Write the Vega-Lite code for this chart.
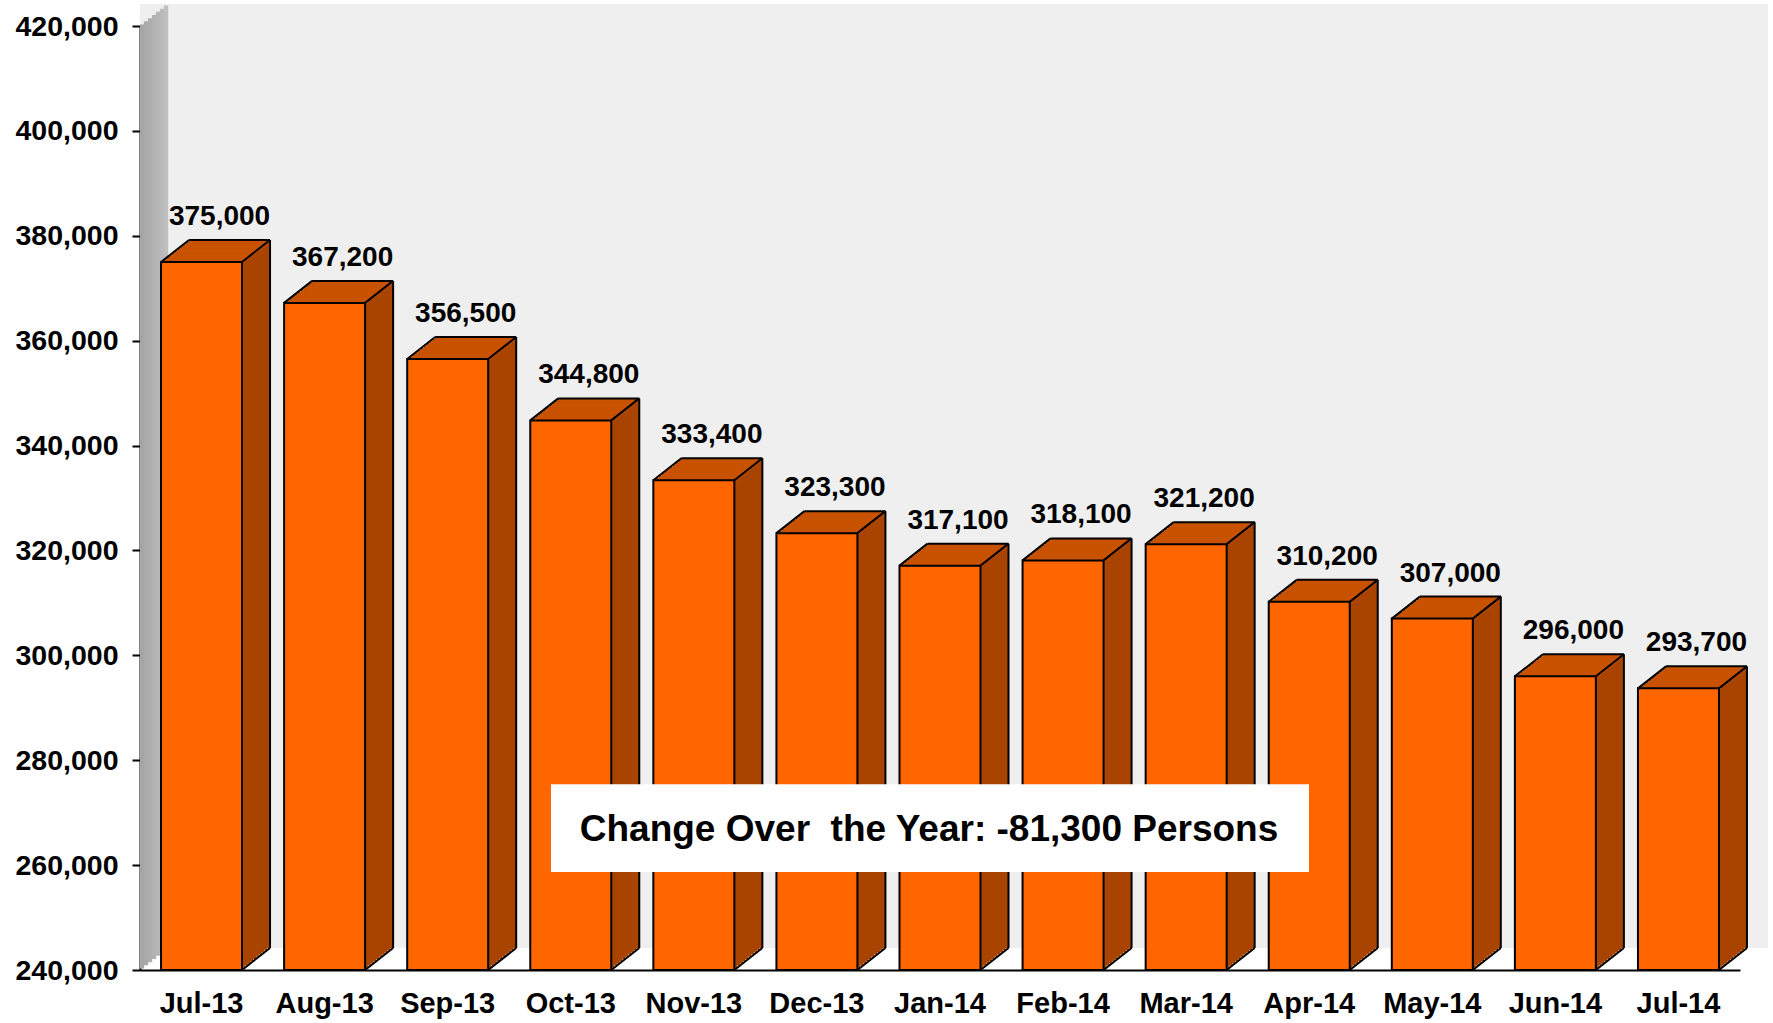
{
  "$schema": "https://vega.github.io/schema/vega-lite/v6.json",
  "width": 1600,
  "height": 944,
  "autosize": {"type": "none"},
  "padding": {"left": 140, "top": 26, "right": 33, "bottom": 53},
  "background": "white",
  "config": {
    "view": {"stroke": null},
    "font": "Liberation Sans",
    "axisY": {"domainColor": "black", "domainWidth": 2, "tickColor": "black", "tickWidth": 2, "tickSize": 8, "labelFont": "Liberation Sans", "labelFontWeight": "bold", "labelFontSize": 28.5, "labelColor": "black", "labelPadding": 14, "grid": false, "zindex": 1, "labelExpr": "format(datum.value, ',')"},
    "axisX": {"domainColor": "black", "domainWidth": 2, "ticks": false, "labelFont": "Liberation Sans", "labelFontWeight": "bold", "labelFontSize": 29, "labelColor": "black", "labelPadding": 19, "labelAngle": 0, "grid": false, "zindex": 1}
  },
  "data": {"values": [
    {"month": "Jul-13", "value": 375000},
    {"month": "Aug-13", "value": 367200},
    {"month": "Sep-13", "value": 356500},
    {"month": "Oct-13", "value": 344800},
    {"month": "Nov-13", "value": 333400},
    {"month": "Dec-13", "value": 323300},
    {"month": "Jan-14", "value": 317100},
    {"month": "Feb-14", "value": 318100},
    {"month": "Mar-14", "value": 321200},
    {"month": "Apr-14", "value": 310200},
    {"month": "May-14", "value": 307000},
    {"month": "Jun-14", "value": 296000},
    {"month": "Jul-14", "value": 293700}
  ]},
  "layer": [
    {"transform": [{"filter": {"field": "month", "equal": "Jul-13"}}], "mark": {"type": "rect", "color": "#efefef", "xOffset": 28, "yOffset": -22, "y2Offset": -22}, "encoding": {"y": {"datum": 420000, "type": "quantitative", "title": null}, "y2": {"datum": 240000}}},
    {
      "encoding": {
        "x": {"field": "month", "type": "nominal", "sort": null, "title": null, "scale": {"paddingInner": 0.34, "paddingOuter": 0.17}},
        "y": {"field": "value", "type": "quantitative", "title": null, "scale": {"domain": [240000, 420000], "zero": false, "nice": false}, "axis": {"values": [240000, 260000, 280000, 300000, 320000, 340000, 360000, 380000, 400000, 420000]}}
      },
      "layer": [
        {"transform": [{"filter": {"field": "month", "equal": "Jul-13"}}], "mark": {"type": "rule", "strokeWidth": 4.3, "strokeCap": "butt", "color": "#a6a6a6", "xOffset": -59.5, "x2Offset": -59.5, "yOffset": -1.57, "y2Offset": -1.57}, "encoding": {"y": {"datum": 420000, "type": "quantitative"}, "y2": {"datum": 240000}}},
        {"transform": [{"filter": {"field": "month", "equal": "Jul-13"}}], "mark": {"type": "rule", "strokeWidth": 4.3, "strokeCap": "butt", "color": "#aaaaaa", "xOffset": -55.5, "x2Offset": -55.5, "yOffset": -4.71, "y2Offset": -4.71}, "encoding": {"y": {"datum": 420000, "type": "quantitative"}, "y2": {"datum": 240000}}},
        {"transform": [{"filter": {"field": "month", "equal": "Jul-13"}}], "mark": {"type": "rule", "strokeWidth": 4.3, "strokeCap": "butt", "color": "#aeaeae", "xOffset": -51.5, "x2Offset": -51.5, "yOffset": -7.86, "y2Offset": -7.86}, "encoding": {"y": {"datum": 420000, "type": "quantitative"}, "y2": {"datum": 240000}}},
        {"transform": [{"filter": {"field": "month", "equal": "Jul-13"}}], "mark": {"type": "rule", "strokeWidth": 4.3, "strokeCap": "butt", "color": "#b2b2b2", "xOffset": -47.5, "x2Offset": -47.5, "yOffset": -11, "y2Offset": -11}, "encoding": {"y": {"datum": 420000, "type": "quantitative"}, "y2": {"datum": 240000}}},
        {"transform": [{"filter": {"field": "month", "equal": "Jul-13"}}], "mark": {"type": "rule", "strokeWidth": 4.3, "strokeCap": "butt", "color": "#b6b6b6", "xOffset": -43.5, "x2Offset": -43.5, "yOffset": -14.14, "y2Offset": -14.14}, "encoding": {"y": {"datum": 420000, "type": "quantitative"}, "y2": {"datum": 240000}}},
        {"transform": [{"filter": {"field": "month", "equal": "Jul-13"}}], "mark": {"type": "rule", "strokeWidth": 4.3, "strokeCap": "butt", "color": "#bababa", "xOffset": -39.5, "x2Offset": -39.5, "yOffset": -17.29, "y2Offset": -17.29}, "encoding": {"y": {"datum": 420000, "type": "quantitative"}, "y2": {"datum": 240000}}},
        {"transform": [{"filter": {"field": "month", "equal": "Jul-13"}}], "mark": {"type": "rule", "strokeWidth": 4.3, "strokeCap": "butt", "color": "#bfbfbf", "xOffset": -35.5, "x2Offset": -35.5, "yOffset": -20.43, "y2Offset": -20.43}, "encoding": {"y": {"datum": 420000, "type": "quantitative"}, "y2": {"datum": 240000}}},
        {"mark": {"type": "bar", "width": 81, "color": "#a84400", "xOffset": 2.8, "yOffset": -2.2, "y2Offset": -2.2}, "encoding": {"y2": {"datum": 240000}}},
        {"mark": {"type": "bar", "width": 81, "color": "#a84400", "xOffset": 5.6, "yOffset": -4.4, "y2Offset": -4.4}, "encoding": {"y2": {"datum": 240000}}},
        {"mark": {"type": "bar", "width": 81, "color": "#a84400", "xOffset": 8.4, "yOffset": -6.6, "y2Offset": -6.6}, "encoding": {"y2": {"datum": 240000}}},
        {"mark": {"type": "bar", "width": 81, "color": "#a84400", "xOffset": 11.2, "yOffset": -8.8, "y2Offset": -8.8}, "encoding": {"y2": {"datum": 240000}}},
        {"mark": {"type": "bar", "width": 81, "color": "#a84400", "xOffset": 14, "yOffset": -11, "y2Offset": -11}, "encoding": {"y2": {"datum": 240000}}},
        {"mark": {"type": "bar", "width": 81, "color": "#a84400", "xOffset": 16.8, "yOffset": -13.2, "y2Offset": -13.2}, "encoding": {"y2": {"datum": 240000}}},
        {"mark": {"type": "bar", "width": 81, "color": "#a84400", "xOffset": 19.6, "yOffset": -15.4, "y2Offset": -15.4}, "encoding": {"y2": {"datum": 240000}}},
        {"mark": {"type": "bar", "width": 81, "color": "#a84400", "xOffset": 22.4, "yOffset": -17.6, "y2Offset": -17.6}, "encoding": {"y2": {"datum": 240000}}},
        {"mark": {"type": "bar", "width": 81, "color": "#a84400", "xOffset": 25.2, "yOffset": -19.8, "y2Offset": -19.8}, "encoding": {"y2": {"datum": 240000}}},
        {"mark": {"type": "bar", "width": 81, "color": "#a84400", "xOffset": 28, "yOffset": -22, "y2Offset": -22}, "encoding": {"y2": {"datum": 240000}}},
        {"mark": {"type": "bar", "width": 81, "color": "#c85200", "xOffset": 28, "yOffset": -22, "y2Offset": -19}, "encoding": {"y2": {"field": "value"}}},
        {"mark": {"type": "bar", "width": 81, "color": "#c85200", "xOffset": 25.2, "yOffset": -19.8, "y2Offset": -16.8}, "encoding": {"y2": {"field": "value"}}},
        {"mark": {"type": "bar", "width": 81, "color": "#c85200", "xOffset": 22.4, "yOffset": -17.6, "y2Offset": -14.6}, "encoding": {"y2": {"field": "value"}}},
        {"mark": {"type": "bar", "width": 81, "color": "#c85200", "xOffset": 19.6, "yOffset": -15.4, "y2Offset": -12.4}, "encoding": {"y2": {"field": "value"}}},
        {"mark": {"type": "bar", "width": 81, "color": "#c85200", "xOffset": 16.8, "yOffset": -13.2, "y2Offset": -10.2}, "encoding": {"y2": {"field": "value"}}},
        {"mark": {"type": "bar", "width": 81, "color": "#c85200", "xOffset": 14, "yOffset": -11, "y2Offset": -8}, "encoding": {"y2": {"field": "value"}}},
        {"mark": {"type": "bar", "width": 81, "color": "#c85200", "xOffset": 11.2, "yOffset": -8.8, "y2Offset": -5.8}, "encoding": {"y2": {"field": "value"}}},
        {"mark": {"type": "bar", "width": 81, "color": "#c85200", "xOffset": 8.4, "yOffset": -6.6, "y2Offset": -3.6}, "encoding": {"y2": {"field": "value"}}},
        {"mark": {"type": "bar", "width": 81, "color": "#c85200", "xOffset": 5.6, "yOffset": -4.4, "y2Offset": -1.4}, "encoding": {"y2": {"field": "value"}}},
        {"mark": {"type": "bar", "width": 81, "color": "#c85200", "xOffset": 2.8, "yOffset": -2.2, "y2Offset": 0.8}, "encoding": {"y2": {"field": "value"}}},
        {"mark": {"type": "bar", "width": 81, "color": "#ff6600", "stroke": "black", "strokeWidth": 2}, "encoding": {"y2": {"datum": 240000}}},
        {"mark": {"type": "rule", "color": "black", "strokeWidth": 2, "xOffset": -12.5, "x2Offset": 68.5, "yOffset": -22, "y2Offset": -22}, "encoding": {"x2": {"field": "month"}, "y2": {"field": "value"}}},
        {"mark": {"type": "rule", "color": "black", "strokeWidth": 2, "xOffset": 68.5, "x2Offset": 68.5, "yOffset": -22, "y2Offset": -22}, "encoding": {"x2": {"field": "month"}, "y2": {"datum": 240000}}},
        {"mark": {"type": "rule", "color": "black", "strokeWidth": 2, "xOffset": -40.5, "x2Offset": -12.5, "y2Offset": -22}, "encoding": {"x2": {"field": "month"}, "y2": {"field": "value"}}},
        {"mark": {"type": "rule", "color": "black", "strokeWidth": 2, "xOffset": 40.5, "x2Offset": 68.5, "y2Offset": -22}, "encoding": {"x2": {"field": "month"}, "y2": {"field": "value"}}},
        {"mark": {"type": "rule", "color": "black", "strokeWidth": 2, "xOffset": 40.5, "x2Offset": 68.5, "yOffset": 0, "y2Offset": -22}, "encoding": {"x2": {"field": "month"}, "y": {"datum": 240000, "type": "quantitative"}, "y2": {"datum": 240000}}},
        {"mark": {"type": "text", "xOffset": 18, "yOffset": -37, "baseline": "alphabetic", "align": "center", "font": "Liberation Sans", "fontSize": 28, "fontWeight": "bold", "color": "black"}, "encoding": {"text": {"field": "value", "format": ","}}},
        {"transform": [{"filter": {"field": "month", "equal": "Jan-14"}}], "mark": {"type": "bar", "width": 758, "xOffset": -10, "color": "white"}, "encoding": {"y": {"datum": 275400, "type": "quantitative"}, "y2": {"datum": 258700}}},
        {"transform": [{"filter": {"field": "month", "equal": "Jan-14"}}], "mark": {"type": "text", "text": "Change Over\u00a0 the Year: -81,300 Persons", "xOffset": -11, "baseline": "middle", "align": "center", "font": "Liberation Sans", "fontSize": 37, "fontWeight": "bold", "color": "black"}, "encoding": {"y": {"datum": 266700, "type": "quantitative"}}}
      ]
    }
  ]
}
